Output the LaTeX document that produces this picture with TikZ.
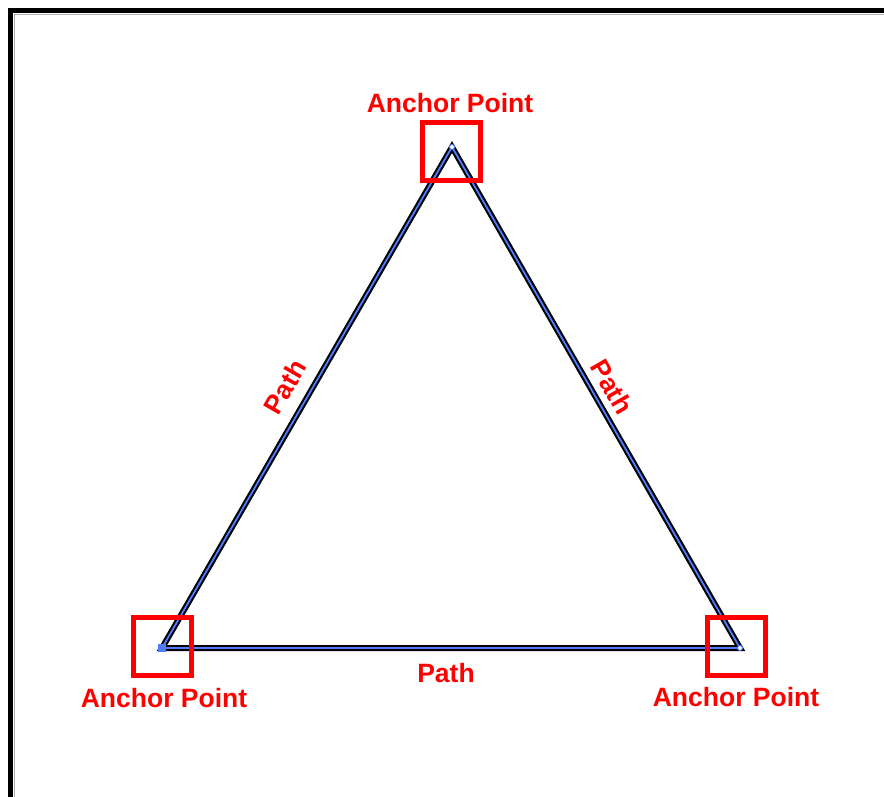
\documentclass[tikz,border=0pt]{standalone}
\usepackage{fontspec}
\setmainfont{Liberation Sans}
\definecolor{corecol}{RGB}{80,125,255}
\begin{document}
\begin{tikzpicture}[x=1pt,y=-1pt,
  lbl/.style={text=red,font=\fontsize{26.5}{30}\selectfont\bfseries,inner sep=0pt},
  anchorbox/.style={draw=red,line width=5pt,minimum size=58pt,inner sep=0pt},
  edge/.style={line width=6pt,black},
  edgecore/.style={line width=1.8pt,corecol}]
\useasboundingbox (0,0) rectangle (884,796);
\fill[white] (0,0) rectangle (884,796);
% frame
\draw[line width=5pt,black] (10.5,800) -- (10.5,10.5) -- (890,10.5);
\draw[line width=1pt,gray!60] (14,800) -- (14,14) -- (890,14);
% vertices
\coordinate (T) at (452,147);
\coordinate (L) at (162,648);
\coordinate (R) at (740,648);
\draw[edge,line join=miter] (T) -- (R) -- (L) -- cycle;
\draw[edgecore] (T) -- (R) -- (L) -- cycle;
\fill[corecol] (L) ++(-4,-4) rectangle ++(8,8);
\filldraw[fill=white,draw=corecol,line width=0.9pt] (T) circle (2.5);
\filldraw[fill=white,draw=corecol,line width=0.9pt] (R) circle (2.5);
% anchor boxes
\node[anchorbox] (bT) at (451.5,151) {};
\node[anchorbox] (bL) at (162.5,646.5) {};
\node[anchorbox] (bR) at (736.5,646.5) {};
% labels
\node[lbl] (aT) at (450,103) {Anchor Point};
\node[lbl] (aL) at (164,698) {Anchor Point};
\node[lbl] (aR) at (736,697) {Anchor Point};
\node[lbl] (pB) at (446,673) {Path};
\node[lbl,rotate=60] (pL) at (285,387) {Path};
\node[lbl,rotate=-60] (pR) at (612,387) {Path};
\end{tikzpicture}
\end{document}
